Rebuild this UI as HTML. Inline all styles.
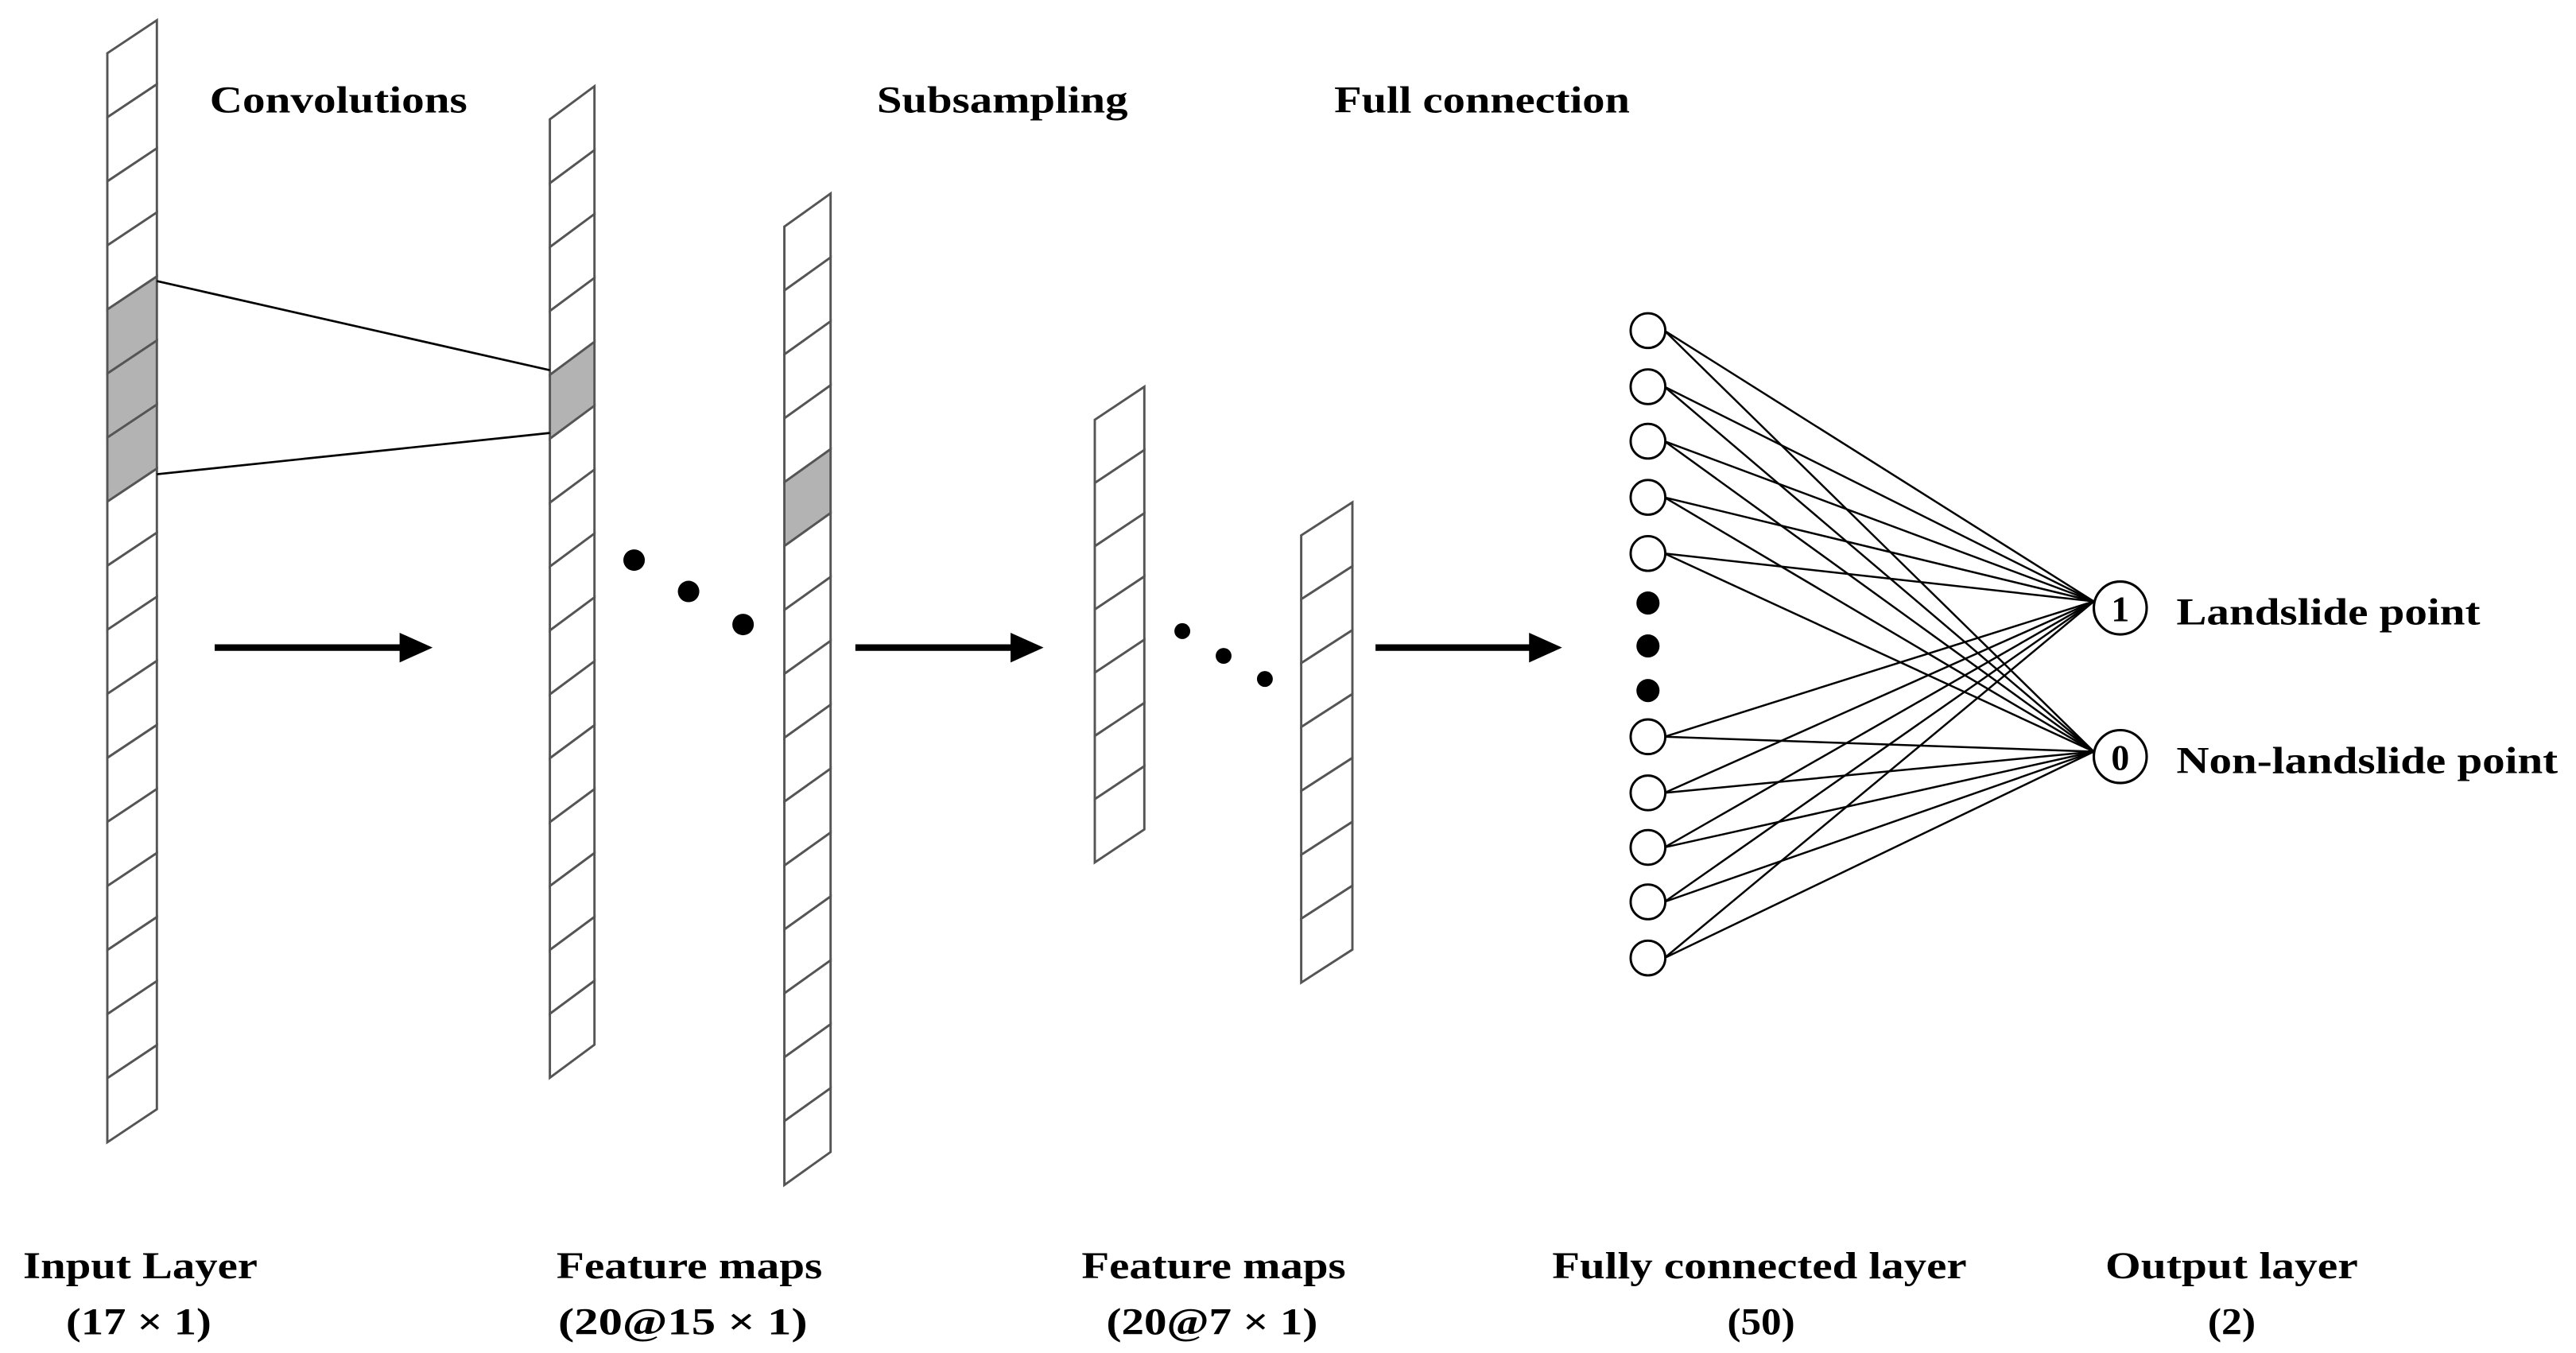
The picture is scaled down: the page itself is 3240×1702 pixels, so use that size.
<!DOCTYPE html>
<html><head><meta charset="utf-8"><style>
html,body{margin:0;padding:0;background:#fff;}
svg{display:block;}
text{font-family:"Liberation Serif",serif;font-weight:bold;fill:#000;}
</style></head><body>
<svg id="s" width="3240" height="1702" viewBox="0 0 1560 819" xmlns="http://www.w3.org/2000/svg">
<defs><marker id="ah" markerWidth="10" markerHeight="10" refX="8" refY="5" orient="auto" markerUnits="userSpaceOnUse">
<path d="M0,0 L10,5 L0,10 z" fill="#000"/></marker></defs>
<g id="cols"></g>
<line x1="95" y1="170" x2="333" y2="224" stroke="#000" stroke-width="1.3"/>
<line x1="95" y1="287" x2="333" y2="262" stroke="#000" stroke-width="1.3"/>
<circle cx="384" cy="339" r="6.5"/><circle cx="417" cy="358" r="6.5"/><circle cx="450" cy="378" r="6.5"/>
<circle cx="716" cy="382" r="4.8"/><circle cx="741" cy="397" r="4.8"/><circle cx="766" cy="411" r="4.8"/>
<g stroke="#000" stroke-width="4">
<line x1="130" y1="392" x2="245" y2="392"/><path d="M242,383 L262,392 L242,401 z" fill="#000" stroke="none"/>
<line x1="518" y1="392" x2="615" y2="392"/><path d="M612,383 L632,392 L612,401 z" fill="#000" stroke="none"/>
<line x1="833" y1="392" x2="929" y2="392"/><path d="M926,383 L946,392 L926,401 z" fill="#000" stroke="none"/>
</g>
<g id="net"></g>
<circle cx="998" cy="365" r="7"/><circle cx="998" cy="391" r="7"/><circle cx="998" cy="418" r="7"/>
<circle cx="1284" cy="368" r="16" fill="#fff" stroke="#000" stroke-width="1.5"/>
<circle cx="1284" cy="458" r="16" fill="#fff" stroke="#000" stroke-width="1.5"/>
<text x="1284" y="376" font-size="22" text-anchor="middle">1</text>
<text x="1284" y="466" font-size="22" text-anchor="middle">0</text>
<g font-size="23">
<text x="127" y="68" textLength="156" lengthAdjust="spacingAndGlyphs">Convolutions</text>
<text x="531" y="68" textLength="152" lengthAdjust="spacingAndGlyphs">Subsampling</text>
<text x="808" y="68" textLength="179" lengthAdjust="spacingAndGlyphs">Full connection</text>
<text x="1318" y="378" textLength="184" lengthAdjust="spacingAndGlyphs">Landslide point</text>
<text x="1318" y="468" textLength="231" lengthAdjust="spacingAndGlyphs">Non-landslide point</text>
<text x="14" y="774" textLength="142" lengthAdjust="spacingAndGlyphs">Input Layer</text>
<text x="40" y="808" textLength="88" lengthAdjust="spacingAndGlyphs">(17 × 1)</text>
<text x="337" y="774" textLength="161" lengthAdjust="spacingAndGlyphs">Feature maps</text>
<text x="338" y="808" textLength="151" lengthAdjust="spacingAndGlyphs">(20@15 × 1)</text>
<text x="655" y="774" textLength="160" lengthAdjust="spacingAndGlyphs">Feature maps</text>
<text x="670" y="808" textLength="128" lengthAdjust="spacingAndGlyphs">(20@7 × 1)</text>
<text x="940" y="774" textLength="251" lengthAdjust="spacingAndGlyphs">Fully connected layer</text>
<text x="1046" y="808" textLength="41" lengthAdjust="spacingAndGlyphs">(50)</text>
<text x="1275" y="774" textLength="153" lengthAdjust="spacingAndGlyphs">Output layer</text>
<text x="1337" y="808" textLength="29" lengthAdjust="spacingAndGlyphs">(2)</text>
</g>
</svg>
<script>
(function(){
var NS="http://www.w3.org/2000/svg";
function el(p,n,a){var e=document.createElementNS(NS,n);for(var k in a)e.setAttribute(k,a[k]);p.appendChild(e);return e;}
var cols=document.getElementById("cols");
function col(xl,xr,ytl,n,h,gray){
  var sk=20;
  for(var i=0;i<n;i++){
    var y0=ytl+i*h,y1=y0+h;
    el(cols,"path",{d:"M"+xl+","+y0+" L"+xr+","+(y0-sk)+" L"+xr+","+(y1-sk)+" L"+xl+","+y1+" Z",
      fill:(gray.indexOf(i)>=0?"#b3b3b3":"#fff"),stroke:"#555","stroke-width":"1.4"});
  }
}
col(65,95,32,17,38.8,[4,5,6]);
col(333,360,72,15,38.7,[4]);
col(475,503,137,15,38.7,[4]);
col(663,693,254,7,38.3,[]);
col(788,819,324,7,38.7,[]);
var net=document.getElementById("net");
var ys=[200,234,267,301,335,446,480,513,546,580];
ys.forEach(function(y){
  el(net,"line",{x1:1008,y1:y,x2:1268,y2:364,stroke:"#000","stroke-width":"1.2"});
  el(net,"line",{x1:1008,y1:y,x2:1268,y2:455,stroke:"#000","stroke-width":"1.2"});
});
ys.forEach(function(y){
  el(net,"circle",{cx:998,cy:y,r:10.5,fill:"#fff",stroke:"#000","stroke-width":"1.4"});
});
})();
</script>
</body></html>
